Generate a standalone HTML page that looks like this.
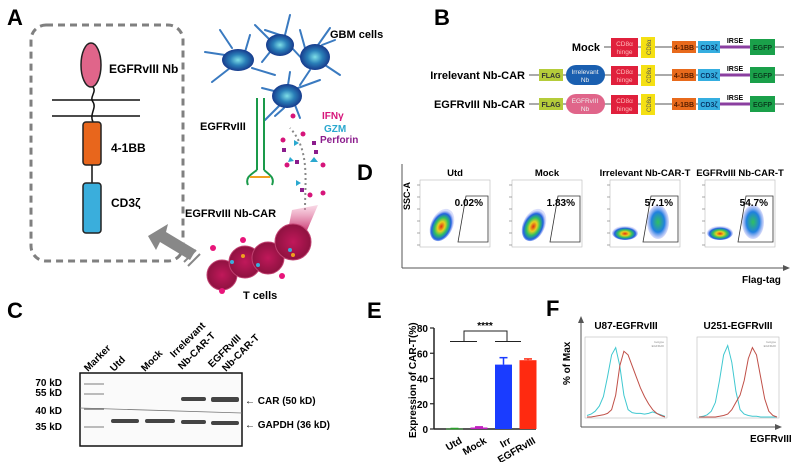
<!DOCTYPE html>
<html><head><meta charset="utf-8"><style>
html,body{margin:0;padding:0;background:#fff;}
svg{display:block;font-family:"Liberation Sans",sans-serif;}
text{font-family:"Liberation Sans","Noto Sans CJK SC",sans-serif;}
</style></head><body>
<svg id="fig" width="797" height="462" viewBox="0 0 797 462">
<defs>
<radialGradient id="gbm" cx="50%" cy="50%" r="50%"><stop offset="0" stop-color="#7fe0e8"/><stop offset="0.5" stop-color="#2a7fb8"/><stop offset="1" stop-color="#163a8c"/></radialGradient>
<radialGradient id="tc" cx="50%" cy="50%" r="50%"><stop offset="0" stop-color="#c0185a"/><stop offset="1" stop-color="#8e1240"/></radialGradient>
<radialGradient id="flow" cx="50%" cy="55%" r="50%"><stop offset="0" stop-color="#e03010"/><stop offset="0.3" stop-color="#e8d020"/><stop offset="0.55" stop-color="#30c060"/><stop offset="0.8" stop-color="#2060e0"/><stop offset="1" stop-color="#8090f0" stop-opacity="0.3"/></radialGradient>
<radialGradient id="flow2" cx="50%" cy="50%" r="50%"><stop offset="0" stop-color="#30c060"/><stop offset="0.6" stop-color="#2080e0"/><stop offset="1" stop-color="#8090f0" stop-opacity="0.3"/></radialGradient>
<linearGradient id="beam" x1="0" y1="1" x2="0" y2="0"><stop offset="0" stop-color="#c0185a"/><stop offset="1" stop-color="#f0a0c0" stop-opacity="0.4"/></linearGradient>
</defs>

<!-- Panel A -->
<g>
<text x="7" y="25" font-size="22" font-weight="bold">A</text>
<rect x="31" y="25" width="152" height="236" rx="15" fill="none" stroke="#808080" stroke-width="3" stroke-dasharray="7,5"/>
<ellipse cx="91" cy="65" rx="10" ry="22" fill="#e0658a" stroke="#222" stroke-width="1.5"/>
<line x1="52" y1="100" x2="140" y2="100" stroke="#111" stroke-width="1.5"/>
<line x1="52" y1="116" x2="140" y2="116" stroke="#111" stroke-width="1.5"/>
<path d="M93,87 C97,92 89,97 93,102 C97,108 89,114 93,122" fill="none" stroke="#111" stroke-width="1.5"/>
<rect x="83" y="122" width="18" height="43" rx="3" fill="#e8661c" stroke="#222" stroke-width="1.5"/>
<line x1="92" y1="165" x2="92" y2="183" stroke="#111" stroke-width="1.5"/>
<rect x="83" y="183" width="18" height="50" rx="3" fill="#3aaedc" stroke="#222" stroke-width="1.5"/>
<text x="109" y="73" font-size="12" font-weight="bold">EGFRvIII Nb</text>
<text x="111" y="152" font-size="12" font-weight="bold">4-1BB</text>
<text x="111" y="207" font-size="12" font-weight="bold">CD3ζ</text>
<g fill="#888">
<polygon points="148,236 168,224 166,232 196,250 190,260 160,242 156,250"/>
<line x1="184" y1="262" x2="196" y2="250" stroke="#888" stroke-width="2"/>
<line x1="188" y1="266" x2="200" y2="254" stroke="#888" stroke-width="2"/>
</g>
<g stroke="#3a7ac0" stroke-width="2" fill="none" stroke-linecap="round">
<path d="M225,55 L205,52 M230,68 L212,82 M245,52 L250,35 M252,68 L275,75 M232,48 L220,30"/>
<path d="M270,40 L255,25 M285,35 L290,15 M292,48 L305,62 M270,52 L262,62 M280,35 L265,30"/>
<path d="M305,48 L300,30 M322,45 L335,40 M325,65 L340,75 M310,70 L300,85 M318,45 L330,28"/>
<path d="M278,92 L262,88 M280,105 L265,120 M295,105 L300,118 M298,88 L320,80 M288,85 L290,72 M284,108 L275,116"/>
</g>
<ellipse cx="238" cy="60" rx="16" ry="11" fill="url(#gbm)"/>
<ellipse cx="280" cy="45" rx="14" ry="11" fill="url(#gbm)"/>
<ellipse cx="315" cy="57" rx="15" ry="13" fill="url(#gbm)"/>
<ellipse cx="287" cy="96" rx="15" ry="12" fill="url(#gbm)"/>
<text x="330" y="38" font-size="11" font-weight="bold">GBM cells</text>
<text x="200" y="130" font-size="11" font-weight="bold">EGFRvIII</text>
<g stroke="#1a9a4a" stroke-width="2" fill="none">
<line x1="257" y1="98" x2="257" y2="170"/><line x1="264" y1="98" x2="264" y2="170"/>
<path d="M257,170 C250,175 245,178 248,185 M264,170 C270,175 275,178 272,185"/>
<path d="M250,177 L270,177" stroke="#f0a020"/>
</g>
<text x="322" y="119" font-size="10" font-weight="bold" fill="#d6157a">IFNγ</text>
<text x="324" y="132" font-size="10" font-weight="bold" fill="#2aa8cf">GZM</text>
<text x="320" y="143" font-size="10" font-weight="bold" fill="#8b1c8c">Perforin</text>
<g>
<path d="M305,210 C305,180 310,150 290,128" fill="none" stroke="#888" stroke-width="2" stroke-dasharray="2,3"/>
<circle cx="293" cy="116" r="2.5" fill="#d6157a"/><circle cx="303" cy="134" r="2.5" fill="#d6157a"/><circle cx="283" cy="140" r="2.5" fill="#d6157a"/>
<circle cx="323" cy="165" r="2.5" fill="#d6157a"/><circle cx="287" cy="165" r="2.5" fill="#d6157a"/><circle cx="310" cy="195" r="2.5" fill="#d6157a"/><circle cx="323" cy="193" r="2.5" fill="#d6157a"/>
<rect x="312" y="141" width="4" height="4" fill="#8b1c8c"/><rect x="314" y="150" width="4" height="4" fill="#8b1c8c"/><rect x="295" y="160" width="4" height="4" fill="#8b1c8c"/><rect x="300" y="188" width="4" height="4" fill="#8b1c8c"/><rect x="282" y="148" width="4" height="4" fill="#8b1c8c"/>
<polygon points="294,140 299,143 294,146" fill="#2aa8cf"/><polygon points="314,157 318,162 310,162" fill="#2aa8cf"/><polygon points="296,180 301,183 296,186" fill="#2aa8cf"/><polygon points="290,157 294,161 288,162" fill="#2aa8cf"/>
</g>
<polygon points="292,210 318,205 305,235 288,230" fill="url(#beam)"/>
<text x="185" y="217" font-size="11" font-weight="bold">EGFRvIII Nb-CAR</text>
<g>
<circle cx="222" cy="275" r="15" fill="url(#tc)" stroke="#c04070"/>
<circle cx="245" cy="262" r="16" fill="url(#tc)" stroke="#c04070"/>
<circle cx="268" cy="258" r="16" fill="url(#tc)" stroke="#c04070"/>
<circle cx="293" cy="242" r="18" fill="url(#tc)" stroke="#c04070"/>
<circle cx="213" cy="248" r="3" fill="#e8157a"/><circle cx="243" cy="240" r="3" fill="#e8157a"/><circle cx="282" cy="276" r="3" fill="#e8157a"/><circle cx="222" cy="291" r="3" fill="#e8157a"/>
<circle cx="232" cy="262" r="2" fill="#3aaedc"/><circle cx="258" cy="265" r="2" fill="#3aaedc"/><circle cx="290" cy="250" r="2" fill="#3aaedc"/><circle cx="293" cy="255" r="2" fill="#f0a020"/><circle cx="243" cy="256" r="2" fill="#f0a020"/>
</g>
<text x="243" y="299" font-size="11" font-weight="bold">T cells</text>
</g>

<!-- Panel B -->
<g>
<text x="434" y="25" font-size="22" font-weight="bold">B</text>
<g id="constructs"></g>
</g>

<!-- Panel D -->
<g>
<text x="357" y="180" font-size="22" font-weight="bold">D</text>
<text transform="translate(410,210) rotate(-90)" font-size="9" font-weight="bold">SSC-A</text>
<line x1="402" y1="164" x2="402" y2="268" stroke="#555" stroke-width="1"/>
<line x1="402" y1="268" x2="787" y2="268" stroke="#555" stroke-width="1"/>
<polygon points="790,268 783,265 783,271" fill="#555"/>
<text x="742" y="283" font-size="10" font-weight="bold">Flag-tag</text>
<g id="flowplots"></g>
</g>

<!-- Panel C -->
<g>
<text x="7" y="318" font-size="22" font-weight="bold">C</text>
<g font-size="10" font-weight="bold">
<text transform="translate(88,372) rotate(-45)">Marker</text>
<text transform="translate(114,372) rotate(-45)">Utd</text>
<text transform="translate(145,372) rotate(-45)">Mock</text>
<text transform="translate(174,358) rotate(-45)">Irrelevant</text>
<text transform="translate(182,370) rotate(-45)">Nb-CAR-T</text>
<text transform="translate(212,368) rotate(-45)">EGFRvIII</text>
<text transform="translate(226,372) rotate(-45)">Nb-CAR-T</text>
<text x="62" y="386" text-anchor="end">70 kD</text>
<text x="62" y="396" text-anchor="end">55 kD</text>
<text x="62" y="414" text-anchor="end">40 kD</text>
<text x="62" y="430" text-anchor="end">35 kD</text>
<text x="245" y="404">←  CAR   (50 kD)</text>
<text x="245" y="428">←  GAPDH (36 kD)</text>
</g>
<rect x="80" y="373" width="162" height="73" fill="#fafafa" stroke="#111" stroke-width="1.5"/>
<g fill="#444">
<rect x="84" y="383" width="20" height="2" fill="#bbb"/><rect x="84" y="393" width="20" height="2" fill="#bbb"/><rect x="84" y="408" width="20" height="2" fill="#999"/><rect x="84" y="426" width="20" height="2" fill="#bbb"/>
<line x1="80" y1="408" x2="242" y2="413" stroke="#777" stroke-width="0.8"/>
<rect x="181" y="397" width="25" height="4" rx="2"/><rect x="211" y="397" width="28" height="5" rx="2"/>
<rect x="111" y="419" width="28" height="4" rx="2"/><rect x="145" y="419" width="30" height="4" rx="2"/><rect x="181" y="420" width="25" height="4" rx="2"/><rect x="211" y="421" width="28" height="4" rx="2"/>
</g>
</g>

<!-- Panel E -->
<g>
<text x="367" y="318" font-size="22" font-weight="bold">E</text>
<text transform="translate(416,438) rotate(-90)" font-size="10" font-weight="bold">Expression of CAR-T(%)</text>
<g id="barchart"></g>
</g>

<!-- Panel F -->
<g>
<text x="546" y="316" font-size="22" font-weight="bold">F</text>
<text transform="translate(570,385) rotate(-90)" font-size="10" font-weight="bold">% of Max</text>
<line x1="581" y1="320" x2="581" y2="427" stroke="#555"/>
<polygon points="581,316 578,323 584,323" fill="#555"/>
<line x1="581" y1="427" x2="778" y2="427" stroke="#555"/>
<polygon points="782,427 775,424 775,430" fill="#555"/>
<text x="750" y="442" font-size="10" font-weight="bold">EGFRvIII</text>
<g id="histos"></g>
</g>
</svg>
<script>
const NS='http://www.w3.org/2000/svg';
function mk(tag,attrs,parent,txt){const e=document.createElementNS(NS,tag);for(const k in attrs)e.setAttribute(k,attrs[k]);if(txt!==undefined)e.textContent=txt;parent.appendChild(e);return e;}

// ---- Panel B constructs
const constructNames=['Mock','Irrelevant Nb-CAR','EGFRvIII Nb-CAR'];
const constructHasNb=[false,true,true];
const nbLabels=['','Irrelevant','EGFRvIII'];
const nbColors=['','#1a5fb0','#e0658a'];
const rowY=[47,75,104];
const cg=document.getElementById('constructs');
constructNames.forEach((n,i)=>{
  const y=rowY[i];
  const g=mk('g',{},cg);
  
  
  const x0=constructHasNb[i]?529:604;
  mk('text',{x:x0-4,y:y+4,'font-size':11,'font-weight':'bold','text-anchor':'end'},g,n);
  mk('line',{x1:x0,y1:y,x2:784,y2:y,stroke:'#777','stroke-width':1.2},g);
  if(constructHasNb[i]){
    mk('rect',{x:539,y:y-6,width:24,height:12,fill:'#b5cc3a'},g);
    mk('text',{x:551,y:y+3,'font-size':7,'font-weight':'bold','text-anchor':'middle',fill:'#333'},g,'FLAG');
    mk('rect',{x:566,y:y-10,width:39,height:20,rx:10,fill:nbColors[i]},g);
    mk('text',{x:585,y:y-1,'font-size':6.5,'text-anchor':'middle',fill:'#eee'},g,nbLabels[i]);
    mk('text',{x:585,y:y+7,'font-size':6.5,'text-anchor':'middle',fill:'#eee'},g,'Nb');
  }
  mk('rect',{x:611,y:y-9,width:27,height:19,fill:'#e0203c'},g);
  mk('text',{x:624.5,y:y-1,'font-size':6.5,'text-anchor':'middle',fill:'#fbb'},g,'CD8α');
  mk('text',{x:624.5,y:y+7,'font-size':6.5,'text-anchor':'middle',fill:'#fbb'},g,'hinge');
  mk('rect',{x:641,y:y-10,width:14,height:21,fill:'#f5e013'},g);
  mk('text',{transform:`translate(651,${y+8}) rotate(-90)`,'font-size':6,fill:'#555'},g,'CD8α');
  mk('rect',{x:672,y:y-6,width:24,height:12,fill:'#e86a1c'},g);
  mk('text',{x:684,y:y+3,'font-size':7,'font-weight':'bold','text-anchor':'middle',fill:'#5a2000'},g,'4-1BB');
  mk('rect',{x:698,y:y-6,width:22,height:12,fill:'#35aee0'},g);
  mk('text',{x:709,y:y+3,'font-size':7,'font-weight':'bold','text-anchor':'middle',fill:'#0a3a6a'},g,'CD3ζ');
  mk('line',{x1:720,y1:y,x2:750,y2:y,stroke:'#8b3fa0','stroke-width':3},g);
  mk('text',{x:735,y:y-4,'font-size':7,'font-weight':'bold','text-anchor':'middle'},g,'IRSE');
  mk('rect',{x:750,y:y-8,width:25,height:16,fill:'#1aa04a'},g);
  mk('text',{x:762.5,y:y+3,'font-size':7,'font-weight':'bold','text-anchor':'middle',fill:'#0a4020'},g,'EGFP');
});

// ---- Panel D flow plots
const flowTitles=['Utd','Mock','Irrelevant Nb-CAR-T','EGFRvIII Nb-CAR-T'];
const flowPercents=['0.02%','1.83%','57.1%','54.7%'];
const flowX=[420,512,610,705];
const fg=document.getElementById('flowplots');
flowTitles.forEach((t,i)=>{
  const x=flowX[i],y=180,w=70,h=67;
  const g=mk('g',{},fg);
  
  
  mk('text',{x:x+35,y:176,'font-size':9.5,'font-weight':'bold','text-anchor':'middle'},g,t);
  mk('rect',{x:x,y:y,width:w,height:h,fill:'#fff',stroke:'#bbb','stroke-width':0.6},g);
  if(i<2){
    mk('ellipse',{cx:x+22,cy:y+45,rx:11,ry:17,fill:'url(#flow)',transform:`rotate(25 ${x+22} ${y+45})`},g);
  } else {
    mk('ellipse',{cx:x+15,cy:y+53,rx:13,ry:7,fill:'url(#flow)'},g);
    mk('ellipse',{cx:x+48,cy:y+42,rx:11,ry:17,fill:'url(#flow2)'},g);
  }
  const gx=i<2?x+38:x+33;
  mk('polygon',{points:`${gx+8},${y+16} ${x+68},${y+16} ${x+68},${y+62} ${gx},${y+62}`,fill:'none',stroke:'#333','stroke-width':0.8},g);
  mk('text',{x:x+63,y:y+26,'font-size':10,'font-weight':'bold','text-anchor':'end'},g,flowPercents[i]);
  for(let k=0;k<6;k++){mk('line',{x1:x-3,y1:y+5+k*12,x2:x,y2:y+5+k*12,stroke:'#555','stroke-width':0.5},g);}
});

// ---- Panel E bar chart
const barCats=['Utd','Mock','Irr','EGFRvIII'];
const barVals=[0.3,1.2,51,54.5];
const barErr=[0.1,0.5,5.5,1];
const barColors=['#2aa02a','#c020c0','#1a3cff','#ff2a10'];
const yTicks=[0,20,40,60,80];
const eg=document.getElementById('barchart');
const yS=v=>429-v*(101/80);
const xS=i=>446+i*24.5;
mk('line',{x1:434,y1:yS(80),x2:434,y2:yS(0),stroke:'#222','stroke-width':1.5},eg);
mk('line',{x1:434,y1:yS(0),x2:536,y2:yS(0),stroke:'#222','stroke-width':1.5},eg);
yTicks.forEach(t=>{
  mk('line',{x1:430,y1:yS(t),x2:434,y2:yS(t),stroke:'#222','stroke-width':1.2},eg);
  mk('text',{x:428,y:yS(t)+4,'font-size':10,'font-weight':'bold','text-anchor':'end'},eg,t);
});
barCats.forEach((c,i)=>{
  const b=mk('rect',{x:xS(i),y:yS(barVals[i]),width:17,height:Math.max(yS(0)-yS(barVals[i]),0.8),fill:barColors[i]},eg);
  
  
  const cx=xS(i)+8.5;
  mk('line',{x1:cx,y1:yS(barVals[i]),x2:cx,y2:yS(barVals[i]+barErr[i]),stroke:barColors[i],'stroke-width':1.5},eg);
  mk('line',{x1:cx-4,y1:yS(barVals[i]+barErr[i]),x2:cx+4,y2:yS(barVals[i]+barErr[i]),stroke:barColors[i],'stroke-width':1.5},eg);
  const tx=cx+5;
  mk('text',{transform:`translate(${tx},${yS(0)+8}) rotate(-30)`,'font-size':10,'font-weight':'bold','text-anchor':'end','dominant-baseline':'hanging'},eg,c);
});
mk('path',{d:'M450,341.5 H477 M464,341.5 V331 H507 V341.5 M495,341.5 H521',fill:'none',stroke:'#222','stroke-width':1},eg);
mk('text',{x:485,y:329,'font-size':10,'font-weight':'bold','text-anchor':'middle'},eg,'****');

// ---- Panel F histograms
const histTitles=['U87-EGFRvIII','U251-EGFRvIII'];
const isoU87=[2,4,8,15,28,55,85,95,70,30,10,6,5,5,4,5,7,5,3,1];
const egfrU87=[0,0,1,2,3,5,10,30,70,90,85,70,55,40,28,18,10,5,2,0];
const isoU251=[0,1,3,8,20,50,85,98,75,35,10,4,2,1,1,0,0,0,0,0];
const egfrU251=[0,0,0,0,0,1,2,4,10,20,30,50,80,95,85,55,25,8,2,0];
const histData=[[isoU87,egfrU87],[isoU251,egfrU251]];
const histX=[585,697];
const hg=document.getElementById('histos');
histTitles.forEach((t,p)=>{
  const x0=histX[p],y0=337,w=82,h=81;
  const g=mk('g',{},hg);
  
  
  mk('text',{x:x0+41,y:329,'font-size':10,'font-weight':'bold','text-anchor':'middle'},g,t);
  mk('rect',{x:x0,y:y0,width:w,height:h,fill:'#fff',stroke:'#bbb','stroke-width':0.6},g);
  mk('text',{x:x0+w-3,y:y0+6,'font-size':3,'text-anchor':'end',fill:'#888'},g,'Isotype');
  mk('text',{x:x0+w-3,y:y0+10,'font-size':3,'text-anchor':'end',fill:'#888'},g,'EGFRvIII');
  ['#40c8d0','#c05048'].forEach((col,s)=>{
    const arr=histData[p][s];
    const pts=arr.map((v,k)=>`${(x0+2+k*(w-4)/(arr.length-1)).toFixed(1)},${(y0+h-1-v*(h-8)/100).toFixed(1)}`).join(' ');
    const pl=mk('polyline',{points:pts,fill:'none',stroke:col,'stroke-width':1},g);
    
    
  });
});
</script>
</body></html>
